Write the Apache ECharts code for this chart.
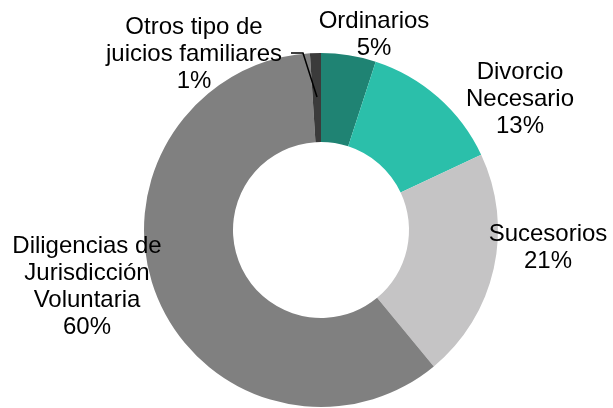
<!DOCTYPE html>
<html>
<head>
<meta charset="utf-8">
<script src="https://cdn.jsdelivr.net/npm/echarts@6/dist/echarts.min.js"></script>
<style>
  html, body { margin: 0; padding: 0; background: #fff; }
  #main { width: 613px; height: 408px; }
</style>
</head>
<body>
<div id="main"></div>
<script>
// datos del gráfico
var categorias = ['Ordinarios', 'Divorcio\nNecesario', 'Sucesorios', 'Diligencias de\nJurisdicción\nVoluntaria', 'Otros tipo de\njuicios familiares']
var valores = [5, 13, 21, 60, 1]
var colores = ['#1f8373', '#2bbfaa', '#c5c4c5', '#808080', '#3b3b3b']

// posición de cada etiqueta (centro del bloque de texto)
var posEtiquetas = [[374, 35], [520, 99], [548, 248], [87, 287], [194, 54]]

var datos = categorias.map(function (name, i) {
  return { name: name, value: valores[i] }
})

var myChart = echarts.init(document.getElementById('main'))
myChart.setOption({
  animation: false,
  series: [
    {
      // anillo
      type: 'pie',
      center: [321, 230],
      radius: [88, 177],
      startAngle: 90,
      clockwise: true,
      z: 1,
      data: datos.map(function (d, i) {
        return { name: d.name, value: d.value, itemStyle: { color: colores[i] } }
      }),
      label: { show: false },
      labelLine: { show: false }
    },
    {
      // etiquetas encima del anillo
      type: 'pie',
      center: [321, 230],
      radius: [88, 177],
      startAngle: 90,
      clockwise: true,
      z: 5,
      silent: true,
      itemStyle: { color: 'rgba(0,0,0,0)' },
      data: datos.map(function (d, i) {
        return { name: d.name, value: d.value, labelLine: { show: i === 4 } }
      }),
      label: {
        show: true,
        formatter: '{b}\n{d}%',
        fontFamily: 'Liberation Sans',
        fontSize: 24,
        lineHeight: 27,
        color: '#000',
        align: 'center',
        overflow: 'none',
        width: 300
      },
      labelLine: {
        showAbove: true,
        length: 10,
        length2: 10,
        lineStyle: { color: '#000', width: 1.5 }
      },
      labelLayout: function (params) {
        var p = posEtiquetas[params.dataIndex]
        var res = { x: p[0], y: p[1], align: 'center', verticalAlign: 'middle' }
        if (params.dataIndex === 4) {
          res.labelLinePoints = [[317, 97], [303, 53], [291, 53]]
        }
        return res
      }
    }
  ]
})
</script>
</body>
</html>
